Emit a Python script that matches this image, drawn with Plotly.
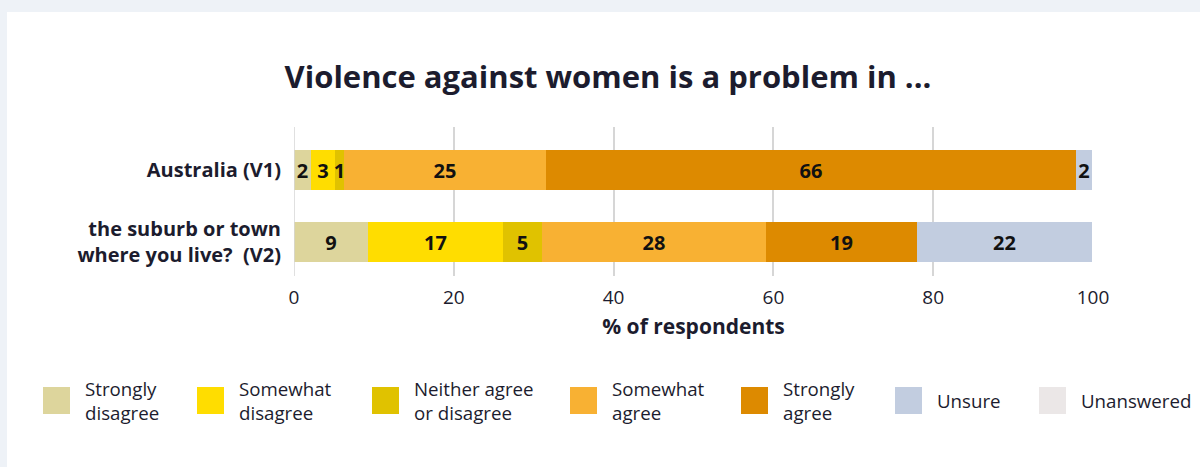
import plotly.graph_objects as go

categories = ["Australia (V1)", "the suburb or town<br>where you live?  (V2)"]
series_names = ["Strongly disagree", "Somewhat disagree", "Neither agree or disagree",
                "Somewhat agree", "Strongly agree", "Unsure", "Unanswered"]
legend_labels = ["Strongly<br>disagree", "Somewhat<br>disagree", "Neither agree<br>or disagree",
                 "Somewhat<br>agree", "Strongly<br>agree", "Unsure", "Unanswered"]
strongly_disagree = [2.1, 9.2]
somewhat_disagree = [3.0, 16.9]
neither = [1.1, 5.0]
somewhat_agree = [25.3, 28.0]
strongly_agree = [66.4, 18.9]
unsure = [2.0, 21.9]
unanswered = [0.0, 0.0]
colors = ["#ddd59c", "#ffdd00", "#e0c200", "#f8b133", "#dd8a00", "#c2cde0", "#ebe7e7"]
x_ticks = [0, 20, 40, 60, 80, 100]

series = [strongly_disagree, somewhat_disagree, neither, somewhat_agree,
          strongly_agree, unsure, unanswered]

FONT = "Open Sans"
DARK = "#1c1c2e"

# plot area in pixels
L, R, T, B = 294, 107, 127, 191
W, H = 1200, 467
PW, PH = W - L - R, H - T - B


def px(x):
    return (x - L) / PW


def py(y):
    return (H - B - y) / PH


fig = go.Figure()
for name, vals, col in zip(series_names, series, colors):
    fig.add_trace(go.Bar(
        y=categories, x=vals, name=name, orientation="h",
        marker=dict(color=col, line=dict(width=0)),
        width=0.556,
        text=[f"{round(v)}" if v > 0 else "" for v in vals],
        textposition="inside", insidetextanchor="middle", textangle=0,
        textfont=dict(family=FONT, size=20, color="#111111", weight="bold"),
        showlegend=False, cliponaxis=False, hoverinfo="skip",
    ))

shapes = [dict(type="rect", xref="paper", yref="paper",
               x0=px(7), x1=px(1210), y0=py(480), y1=py(12),
               fillcolor="white", line=dict(width=0), layer="below")]
annotations = []

# manual legend
sq_x = [43, 197, 372, 570, 741, 895, 1039]
for lx, lab, col in zip(sq_x, legend_labels, colors):
    shapes.append(dict(type="rect", xref="paper", yref="paper",
                       x0=px(lx), x1=px(lx + 27), y0=py(414), y1=py(387),
                       fillcolor=col, line=dict(width=0)))
    annotations.append(dict(xref="paper", yref="paper", x=px(lx + 40), y=py(400),
                            xanchor="left", yanchor="middle", align="left",
                            text=lab, showarrow=False,
                            font=dict(family=FONT, size=18.7, color=DARK)))

fig.update_layout(
    width=W, height=H,
    margin=dict(l=L, r=R, t=T, b=B, pad=0),
    paper_bgcolor="#eef2f7", plot_bgcolor="rgba(0,0,0,0)",
    barmode="stack", bargap=0,
    title=dict(text="<b>Violence against women is a problem in ...</b>",
               xref="paper", x=px(608), xanchor="center",
               yref="container", y=1 - 77 / H, yanchor="middle",
               font=dict(family=FONT, size=31, color=DARK)),
    uniformtext=dict(minsize=20, mode="show"),
    shapes=shapes, annotations=annotations,
    xaxis=dict(range=[0, 100], tickvals=x_ticks, showgrid=True,
               gridcolor="#d6d6d6", gridwidth=1.5, zeroline=False,
               showline=False, ticks="", ticklen=0, ticklabelstandoff=8,
               tickfont=dict(family=FONT, size=19, color=DARK),
               title=dict(text="<b>% of respondents</b>", standoff=10,
                          font=dict(family=FONT, size=21, color=DARK))),
    yaxis=dict(autorange=False, range=[1.472, -0.597], showgrid=False,
               ticks="", ticklabelstandoff=12,
               tickfont=dict(family=FONT, size=20, color=DARK, weight="bold")),
)
fig.add_vline(x=0, line=dict(color="#d6d6d6", width=1.5))

fig.write_html("out.html", config={"displayModeBar": False},
               post_script="document.body.style.margin='0';")
